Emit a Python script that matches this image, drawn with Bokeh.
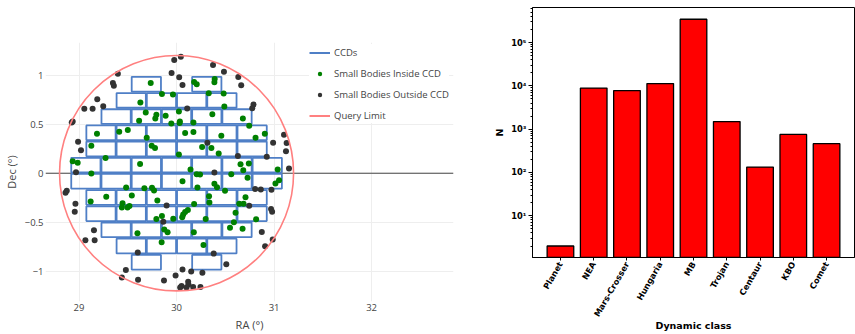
import numpy as np
from bokeh.plotting import figure
from bokeh.layouts import row
from bokeh.models import (Range1d, FixedTicker, CustomJSTickFormatter, Legend, LegendItem, Span)
from bokeh.embed import file_html
from bokeh.resources import INLINE

# ---------------- data: left panel (RA / Dec in degrees) ----------------
inside_ra = [29.735, 30.180, 30.207, 30.391, 30.388, 29.850, 29.963, 30.330, 30.483, 29.629,
             30.490, 29.684, 29.793, 29.782, 29.888, 30.024, 29.616, 29.946, 30.034, 30.031,
             30.173, 30.367, 30.680, 30.745, 29.184, 29.412, 29.500, 29.694, 30.088, 30.173,
             30.459, 30.810, 30.905, 29.126, 29.745, 29.779, 30.262, 30.357, 30.432, 29.272,
             30.024, 28.935, 28.986, 29.626, 30.656, 30.741, 30.684, 31.037, 29.126, 30.143,
             30.207, 30.241, 30.561, 30.061, 30.728, 31.051, 31.014, 30.388, 30.415, 29.483,
             29.670, 29.748, 29.769, 30.214, 30.497, 29.279, 29.541, 30.333, 30.337, 30.707,
             29.119, 29.446, 29.439, 29.497, 29.517, 29.803, 30.180, 30.643, 30.687, 30.068,
             30.088, 30.116, 30.058, 30.605, 29.793, 29.850, 29.966, 30.299, 30.816, 30.588,
             30.548, 30.677, 29.874, 29.908, 29.599, 30.177, 29.847, 30.276]
inside_dec = [0.920, 0.931, 0.907, 0.961, 0.927, 0.809, 0.802, 0.816, 0.812, 0.721,
              0.680, 0.619, 0.596, 0.558, 0.585, 0.629, 0.535, 0.508, 0.528, 0.511,
              0.518, 0.602, 0.558, 0.484, 0.403, 0.423, 0.440, 0.362, 0.409, 0.420,
              0.382, 0.362, 0.403, 0.281, 0.281, 0.257, 0.267, 0.257, 0.200, 0.156,
              0.190, 0.122, 0.108, 0.095, 0.091, 0.098, 0.030, 0.037, -0.003, 0.037,
              -0.010, -0.014, -0.010, -0.081, -0.047, -0.071, -0.105, -0.108, -0.142, -0.146,
              -0.152, -0.149, -0.176, -0.146, -0.179, -0.240, -0.227, -0.234, -0.298, -0.244,
              -0.288, -0.305, -0.349, -0.349, -0.335, -0.277, -0.315, -0.311, -0.311, -0.420,
              -0.396, -0.376, -0.450, -0.403, -0.467, -0.437, -0.464, -0.467, -0.470, -0.501,
              -0.555, -0.565, -0.575, -0.602, -0.613, -0.602, -0.704, -0.731]
outside_ra = [29.976, 30.044, 30.374, 30.486, 29.949, 30.027, 30.061, 30.633, 30.663, 29.398,
              29.347, 29.357, 29.187, 29.054, 29.139, 29.248, 30.109, 30.789, 30.776, 28.935,
              28.925, 28.990, 29.020, 30.316, 31.102, 31.129, 30.990, 31.122, 30.629, 30.925,
              31.153, 28.969, 30.388, 28.861, 28.874, 28.963, 28.956, 30.806, 30.864, 30.973,
              30.969, 30.980, 30.745, 29.898, 29.864, 29.153, 29.160, 29.065, 30.874, 30.986,
              30.908, 29.602, 30.381, 30.510, 29.480, 29.439, 29.605, 29.871, 29.990, 30.061,
              30.150, 30.265, 30.119, 30.122, 30.051, 30.037, 30.102, 30.170, 30.245]
outside_dec = [1.154, 1.188, 1.103, 1.036, 1.022, 0.978, 0.900, 0.981, 0.897, 1.015,
               0.920, 0.893, 0.755, 0.657, 0.657, 0.684, 0.660, 0.701, 0.663, 0.528,
               0.518, 0.321, 0.234, 0.311, 0.393, 0.308, 0.311, 0.223, 0.176, 0.169,
               0.047, 0.010, 0.007, -0.200, -0.179, -0.311, -0.393, -0.162, -0.166, -0.169,
               -0.365, -0.393, -0.332, -0.328, -0.494, -0.582, -0.684, -0.684, -0.599, -0.677,
               -0.745, -0.809, -0.819, -0.927, -0.988, -1.063, -1.086, -1.093, -1.042, -0.981,
               -1.002, -1.015, -1.107, -1.134, -1.151, -1.164, -1.164, -1.161, -1.161]

query_ra = 30.0
query_dec = 0.0
query_radius = 1.2

# CCD mosaic: one entry per row (centre Dec, number of CCD slots); the
# middle slot of the first and last rows is empty
ccd_row_dec = [0.9075, 0.7425, 0.5775, 0.4125, 0.2475, 0.0825,
               -0.0825, -0.2475, -0.4125, -0.5775, -0.7425, -0.9075]
ccd_row_slots = [3, 4, 5, 6, 6, 7, 7, 6, 6, 5, 4, 3]
ccd_w, ccd_h, ccd_pitch = 0.30, 0.15, 0.31

ccd_ra, ccd_dec = [], []
for d, n in zip(ccd_row_dec, ccd_row_slots):
    for i in range(n):
        if n == 3 and i == 1:
            continue
        ccd_ra.append(query_ra + (i - (n - 1) / 2) * ccd_pitch)
        ccd_dec.append(d)

x_ticks_left = [29, 30, 31, 32]
y_ticks_left = [-1, -0.5, 0, 0.5, 1]

# ---------------- data: right panel ----------------
classes = ["Planet", "NEA", "Mars-Crosser", "Hungaria", "MB", "Trojan", "Centaur", "KBO", "Comet"]
counts = [2, 8900, 7800, 11300, 346000, 1500, 133, 757, 461]
y_ticks_right = [10, 100, 1000, 10000, 100000]

# ---------------- left figure ----------------
BLUE = "#4f7fc6"
RED = "#ff8080"
GREY = "#444444"
PFONT = "Open Sans"

p1 = figure(width=470, height=334, output_backend="svg", toolbar_location=None,
            x_range=Range1d(28.656, 32.84), y_range=Range1d(-1.308, 1.333),
            min_border_left=43, min_border_right=17, min_border_top=42, min_border_bottom=32)
p1.outline_line_color = None
p1.xaxis.ticker = FixedTicker(ticks=x_ticks_left)
p1.yaxis.ticker = FixedTicker(ticks=y_ticks_left)
p1.yaxis.formatter = CustomJSTickFormatter(
    code="return tick < 0 ? '\\u2212' + Math.abs(tick) : String(tick);")
p1.xaxis.axis_label = "RA (°)"
p1.yaxis.axis_label = "Dec (°)"
for ax in (p1.xaxis[0], p1.yaxis[0]):
    ax.axis_line_color = None
    ax.major_tick_line_color = None
    ax.minor_tick_line_color = None
    ax.major_tick_out = 0
    ax.major_tick_in = 0
    ax.minor_tick_out = 0
    ax.minor_tick_in = 0
    ax.major_label_text_font = PFONT
    ax.major_label_text_font_size = "9.5px"
    ax.major_label_text_color = GREY
    ax.major_label_standoff = 2
    ax.axis_label_text_font = PFONT
    ax.axis_label_text_font_size = "11px"
    ax.axis_label_text_font_style = "normal"
    ax.axis_label_text_color = GREY
p1.xaxis.axis_label_standoff = 3
p1.yaxis.axis_label_standoff = 3
p1.grid.grid_line_color = "#eeeeee"
p1.grid.grid_line_width = 1

zero = Span(location=0, dimension="width", line_color=GREY, line_width=1, level="underlay")
p1.add_layout(zero)

p1.rect(x=ccd_ra, y=ccd_dec, width=ccd_w, height=ccd_h, fill_color=None,
        line_color=BLUE, line_width=1.8)
r_in = p1.scatter(inside_ra, inside_dec, size=6, fill_color="green", line_color=None)
r_out = p1.scatter(outside_ra, outside_dec, size=6, fill_color="#333333", line_color=None)
p1.ellipse(x=[query_ra], y=[query_dec], width=[2 * query_radius], height=[2 * query_radius],
           fill_color=None, line_color=RED, line_width=1.6)

# legend proxies: single-point lines draw nothing on the plot but give a line glyph
ccd_proxy = p1.line(x=[ccd_ra[0]], y=[ccd_dec[0]], line_color=BLUE, line_width=2)
query_proxy = p1.line(x=[query_ra], y=[query_dec], line_color=RED, line_width=2)

legend = Legend(items=[LegendItem(label="CCDs", renderers=[ccd_proxy]),
                       LegendItem(label="Small Bodies Inside CCD", renderers=[r_in]),
                       LegendItem(label="Small Bodies Outside CCD", renderers=[r_out]),
                       LegendItem(label="Query Limit", renderers=[query_proxy])],
                location=(264, 178))
legend.label_text_font = PFONT
legend.label_text_font_size = "9.5px"
legend.label_text_color = GREY
legend.background_fill_color = "white"
legend.background_fill_alpha = 1.0
legend.border_line_color = None
legend.padding = 1
legend.margin = 0
legend.spacing = 5
legend.glyph_height = 11
legend.label_height = 16
legend.glyph_width = 21
legend.label_standoff = 4
p1.add_layout(legend)

# ---------------- right figure ----------------
MFONT = "DejaVu Sans"
p2 = figure(width=385, height=334, output_backend="svg", toolbar_location=None,
            y_axis_type="log", x_range=Range1d(-0.84, 8.84), y_range=Range1d(1.085, 6.46e5),
            min_border_left=62, min_border_right=1, min_border_top=7, min_border_bottom=73)
p2.grid.visible = False
p2.outline_line_color = "black"
p2.outline_line_width = 1

xpos = list(range(len(classes)))
p2.vbar(x=xpos, top=counts, bottom=1, width=0.8, fill_color="red",
        line_color="black", line_width=1.3)

p2.xaxis.ticker = FixedTicker(ticks=xpos)
p2.xaxis.major_label_overrides = {i: c for i, c in enumerate(classes)}
p2.xaxis.major_label_orientation = np.pi / 3
p2.xaxis.minor_tick_line_color = None

minor = [m * 10 ** k for k in range(0, 6) for m in range(2, 10)]
p2.yaxis.ticker = FixedTicker(ticks=y_ticks_right, minor_ticks=minor)
p2.yaxis.formatter = CustomJSTickFormatter(code="""
const sup = {'0':'\\u2070','1':'\\u00b9','2':'\\u00b2','3':'\\u00b3','4':'\\u2074',
             '5':'\\u2075','6':'\\u2076','7':'\\u2077','8':'\\u2078','9':'\\u2079','-':'\\u207b'};
const e = Math.round(Math.log10(tick));
return '10' + String(e).split('').map(c => sup[c]).join('');
""")
p2.xaxis.axis_label = "Dynamic class"
p2.yaxis.axis_label = "N"
for ax in (p2.xaxis[0], p2.yaxis[0]):
    ax.axis_line_color = "black"
    ax.major_tick_line_color = "black"
    ax.major_tick_out = 4
    ax.major_tick_in = 0
    ax.minor_tick_out = 2
    ax.minor_tick_in = 0
    ax.major_label_text_font = MFONT
    ax.major_label_text_font_style = "bold"
    ax.major_label_text_font_size = "8.3px"
    ax.major_label_text_color = "black"
    ax.major_label_standoff = 2
    ax.axis_label_text_font = MFONT
    ax.axis_label_text_font_style = "bold"
    ax.axis_label_text_font_size = "9.5px"
    ax.axis_label_text_color = "black"
p2.xaxis.major_tick_out = 3
p2.xaxis.axis_label_standoff = -4
p2.yaxis.axis_label_standoff = 3

for p in (p1, p2):
    if "frame_align" in p.properties():
        p.frame_align = False

layout = row(p1, p2)
open("out.html", "w").write(file_html(layout, INLINE))
